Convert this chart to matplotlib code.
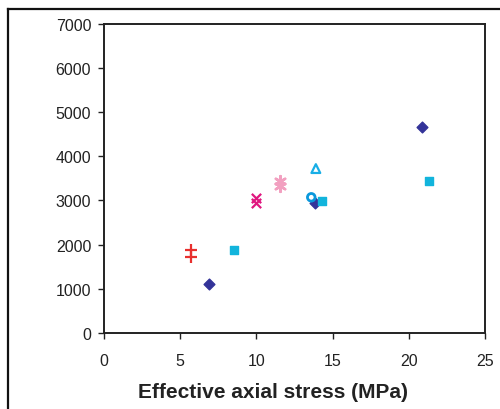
import matplotlib
matplotlib.use("Agg")
import matplotlib.pyplot as plt
from matplotlib.lines import Line2D

plt.rcParams['font.family'] = ['Liberation Sans', 'DejaVu Sans']

# data series (x: effective axial stress MPa, y: value)
diamond_x = [6.9, 13.85, 20.85]
diamond_y = [1100, 2950, 4650]
square_x = [8.5, 14.3, 21.3]
square_y = [1880, 2975, 3440]
plus_x = [5.7, 5.7]
plus_y = [1880, 1720]
xmark_x = [10.0, 10.0]
xmark_y = [3060, 2950]
star_x = [11.55, 11.55]
star_y = [3440, 3330]
tri_x = [13.9]
tri_y = [3720]
circ_x = [13.6]
circ_y = [3070]

fig = plt.figure(figsize=(5.0, 4.1), dpi=100)
ax = fig.add_axes([0.208, 0.1854, 0.762, 0.7546])

ax.scatter(diamond_x, diamond_y, marker='D', s=30, color='#333399', zorder=3)
ax.scatter(square_x, square_y, marker='s', s=26, color='#12b4dc', zorder=3)
ax.scatter(plus_x, plus_y, marker='+', s=70, color='#e8302e', linewidths=1.6, zorder=3)
ax.scatter(xmark_x, xmark_y, marker='x', s=45, color='#e0177f', linewidths=1.6, zorder=3)
ax.scatter(star_x, star_y, marker=(6, 2, 0), s=60, color='#f2a0c0', linewidths=1.8, zorder=3)
ax.scatter(tri_x, tri_y, marker='^', s=40, facecolors='none', edgecolors='#18aee6', linewidths=1.6, zorder=3)
ax.scatter(circ_x, circ_y, marker='o', s=30, facecolors='none', edgecolors='#0a98dc', linewidths=2.0, zorder=4)

ax.set_xlim(0, 25)
ax.set_ylim(0, 7000)
ax.set_xticks([0, 5, 10, 15, 20, 25])
ax.set_yticks(range(0, 7001, 1000))
ax.tick_params(direction='out', length=4.2, width=1.0, labelsize=11.5, colors='#222222')
ax.tick_params(axis='y', pad=5)
ax.tick_params(axis='x', pad=10)
for sp in ax.spines.values():
    sp.set_linewidth(1.4)
    sp.set_color('#222222')

ax.set_xlabel('Effective axial stress (MPa)', fontsize=15, fontweight='bold', color='#222222')
ax.xaxis.set_label_coords(0.4436, -0.158)

# outer frame
fig.add_artist(Line2D([8/500, 8/500], [0, 1 - 10/410], transform=fig.transFigure, color='#111111', lw=1.6))
fig.add_artist(Line2D([8/500, 1], [1 - 10/410, 1 - 10/410], transform=fig.transFigure, color='#111111', lw=1.6))

fig.savefig('out.png', dpi=100)
